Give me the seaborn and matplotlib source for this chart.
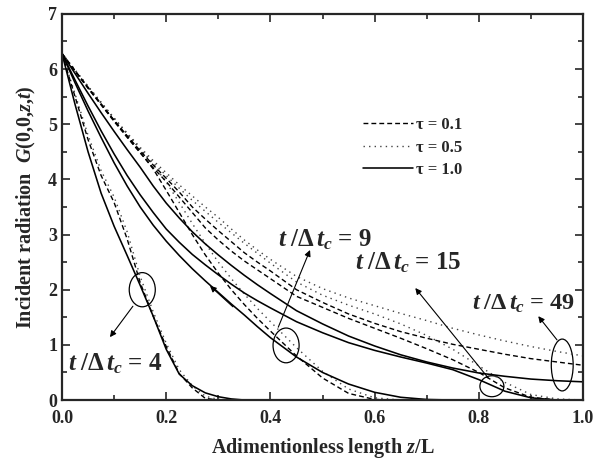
import matplotlib
matplotlib.use('Agg')
import matplotlib.pyplot as plt
from matplotlib.lines import Line2D
from matplotlib.patches import Ellipse
import seaborn as sns
import numpy as np

# dimensionless length grid shared by all curves
z = [0, 0.025, 0.05, 0.075, 0.1, 0.125, 0.15, 0.175, 0.2, 0.225, 0.25, 0.275, 0.3,
     0.325, 0.35, 0.375, 0.4, 0.45, 0.5, 0.55, 0.6, 0.65, 0.7, 0.75, 0.8, 0.85,
     0.9, 0.95, 1.0]

# incident radiation, t/dt_c = 4
g4_tau01 = [6.28, 5.5, 4.72, 4.07, 3.58, 2.92, 2.13, 1.52, 0.97, 0.48, 0.22, 0.03, 0.0]
g4_tau05 = [6.28, 5.55, 4.8, 4.16, 3.68, 3.05, 2.24, 1.6, 1.03, 0.55, 0.26, 0.07, 0.01,
            0.0]
g4_tau10 = [6.28, 5.36, 4.5, 3.75, 3.15, 2.62, 2.08, 1.52, 0.92, 0.47, 0.26, 0.13, 0.06,
            0.02, 0.0]

# t/dt_c = 9
g9_tau01 = [6.28, 5.97, 5.67, 5.37, 5.07, 4.78, 4.49, 4.19, 3.8, 3.4, 3.0, 2.63, 2.3,
            2.0, 1.73, 1.48, 1.25, 0.8, 0.4, 0.12, 0.01, 0.0]
g9_tau05 = [6.28, 5.98, 5.69, 5.4, 5.11, 4.83, 4.55, 4.27, 3.95, 3.58, 3.2, 2.84, 2.5,
            2.2, 1.92, 1.66, 1.42, 0.95, 0.52, 0.2, 0.04, 0.0]
g9_tau10 = [6.28, 5.75, 5.24, 4.76, 4.3, 3.88, 3.5, 3.17, 2.88, 2.62, 2.38, 2.16, 1.95,
            1.74, 1.54, 1.33, 1.13, 0.78, 0.5, 0.29, 0.14, 0.05, 0.01, 0.0]

# t/dt_c = 15
g15_tau01 = [6.28, 5.96, 5.65, 5.35, 5.05, 4.76, 4.48, 4.21, 3.96, 3.68, 3.4, 3.12, 2.9,
             2.7, 2.52, 2.36, 2.2, 1.88, 1.68, 1.48, 1.3, 1.12, 0.93, 0.73, 0.5, 0.22,
             0.05, 0.0]
g15_tau05 = [6.28, 5.98, 5.68, 5.38, 5.1, 4.82, 4.55, 4.3, 4.07, 3.84, 3.62, 3.42, 3.22,
             3.03, 2.84, 2.66, 2.48, 2.14, 1.9, 1.72, 1.56, 1.38, 1.17, 0.92, 0.62, 0.32,
             0.1, 0.02, 0.0]
g15_tau10 = [6.28, 5.8, 5.33, 4.88, 4.46, 4.07, 3.72, 3.4, 3.1, 2.86, 2.64, 2.45, 2.27,
             2.1, 1.94, 1.8, 1.67, 1.42, 1.22, 1.04, 0.9, 0.78, 0.67, 0.55, 0.37, 0.16,
             0.04, 0.0]

# t/dt_c = 49
g49_tau01 = [6.28, 5.97, 5.66, 5.36, 5.07, 4.79, 4.52, 4.26, 4.02, 3.77, 3.5, 3.28, 3.07,
             2.87, 2.67, 2.5, 2.34, 2.0, 1.77, 1.56, 1.39, 1.24, 1.12, 1.01, 0.92, 0.83,
             0.75, 0.69, 0.63]
g49_tau05 = [6.28, 5.98, 5.68, 5.39, 5.11, 4.84, 4.58, 4.34, 4.12, 3.9, 3.7, 3.5, 3.31,
             3.1, 2.9, 2.72, 2.55, 2.24, 2.02, 1.85, 1.71, 1.57, 1.44, 1.3, 1.18, 1.07,
             0.97, 0.88, 0.8]
g49_tau10 = [6.28, 5.92, 5.56, 5.21, 4.87, 4.54, 4.22, 3.88, 3.57, 3.3, 3.05, 2.83, 2.63,
             2.44, 2.26, 2.09, 1.93, 1.62, 1.38, 1.16, 0.98, 0.82, 0.69, 0.58, 0.49, 0.43,
             0.38, 0.35, 0.33]

tau_labels = ['τ = 0.1', 'τ = 0.5', 'τ = 1.0']
time_labels = ['4', '9', '15', '49']

# ellipse marks: centre z, centre G, width, height
ell_z = [0.154, 0.43, 0.825, 0.96]
ell_g = [2.0, 0.99, 0.25, 0.635]
ell_w = [0.05, 0.05, 0.046, 0.042]
ell_h = [0.62, 0.63, 0.38, 0.94]

sns.set_style('ticks')
plt.rcParams['font.family'] = ['Liberation Serif', 'DejaVu Serif']
plt.rcParams['font.weight'] = 'bold'
plt.rcParams['axes.labelweight'] = 'bold'
plt.rcParams['mathtext.fontset'] = 'custom'
plt.rcParams['mathtext.rm'] = 'Liberation Serif:bold'
plt.rcParams['mathtext.it'] = 'Liberation Serif:italic:bold'
plt.rcParams['mathtext.bf'] = 'Liberation Serif:bold'

fig = plt.figure(figsize=(6.08, 4.63), dpi=100)
ax = fig.add_axes([0.102, 0.136, 0.857, 0.834])

styles = {
    'dash': dict(color='black', lw=1.0, dashes=(3.5, 2.2)),
    'dot': dict(color='#444444', lw=1.0, dashes=(1.0, 3.0)),
    'solid': dict(color='black', lw=1.15),
}
groups = [(g4_tau01, g4_tau05, g4_tau10), (g9_tau01, g9_tau05, g9_tau10),
          (g15_tau01, g15_tau05, g15_tau10), (g49_tau01, g49_tau05, g49_tau10)]
for g01, g05, g10 in groups:
    for vals, key in [(g05, 'dot'), (g01, 'dash'), (g10, 'solid')]:
        sns.lineplot(x=z[:len(vals)], y=vals, ax=ax, legend=False, **styles[key])

# ellipses around each time group
for cz, cg, w, h in zip(ell_z, ell_g, ell_w, ell_h):
    ax.add_patch(Ellipse((cz, cg), w, h, fill=False, ec='black', lw=0.9))

arrow = dict(arrowstyle='-|>', color='black', lw=0.8, mutation_scale=9, shrinkA=0, shrinkB=0)
ax.annotate('', xy=(0.092, 1.14), xytext=(0.136, 1.70), arrowprops=arrow)
ax.annotate('', xy=(0.476, 2.72), xytext=(0.415, 1.32), arrowprops=arrow)
ax.annotate('', xy=(0.678, 2.03), xytext=(0.818, 0.40), arrowprops=arrow)
ax.annotate('', xy=(0.914, 1.52), xytext=(0.95, 1.09), arrowprops=arrow)
ax.annotate('', xy=(0.284, 2.07), xytext=(0.328, 1.69), arrowprops=arrow)

lab = r'$t\;/\mathit{\Delta}\,t_c$ = '
ax.text(0.0115, 0.54, lab + time_labels[0], fontsize=18, va='baseline')
ax.text(0.415, 2.79, lab + time_labels[1], fontsize=18, va='baseline')
ax.text(0.562, 2.37, lab + time_labels[2], fontsize=18, va='baseline')
ax.text(0.787, 1.63, lab + time_labels[3], fontsize=17.5, va='baseline')

handles = [Line2D([], [], **styles['dash']), Line2D([], [], **styles['dot']),
           Line2D([], [], **styles['solid'])]
ax.legend(handles, tau_labels, loc='upper left', bbox_to_anchor=(0.548, 0.772),
          frameon=False, handlelength=3.0, handletextpad=0.2, labelspacing=0.4,
          prop={'weight': 'bold', 'size': 12})

ax.set_xlim(0, 1.0)
ax.set_ylim(0, 7)
ax.set_xticks(np.arange(0, 1.01, 0.2))
ax.set_xticks(np.arange(0, 1.01, 0.1), minor=True)
ax.set_yticks(np.arange(0, 8, 1))
ax.set_yticks(np.arange(0, 7.01, 0.5), minor=True)
ax.set_xticklabels(['0.0', '0.2', '0.4', '0.6', '0.8', '1.0'])
ax.tick_params(which='both', direction='in', top=True, right=True, width=1.2,
               labelsize=13)
ax.tick_params(axis='x', which='major', pad=7)
ax.tick_params(which='major', length=6)
ax.tick_params(which='minor', length=3.5)
for s in ax.spines.values():
    s.set_linewidth(1.6)
    s.set_visible(True)

ax.set_xlabel(r'Adimentionless length $z$/L', fontsize=14.5, labelpad=7)
ax.set_ylabel(r'Incident radiation  $G$(0,0,$z$,$t$)', fontsize=14.5, labelpad=7)

plt.savefig('out.png', dpi=100)
plt.close()
